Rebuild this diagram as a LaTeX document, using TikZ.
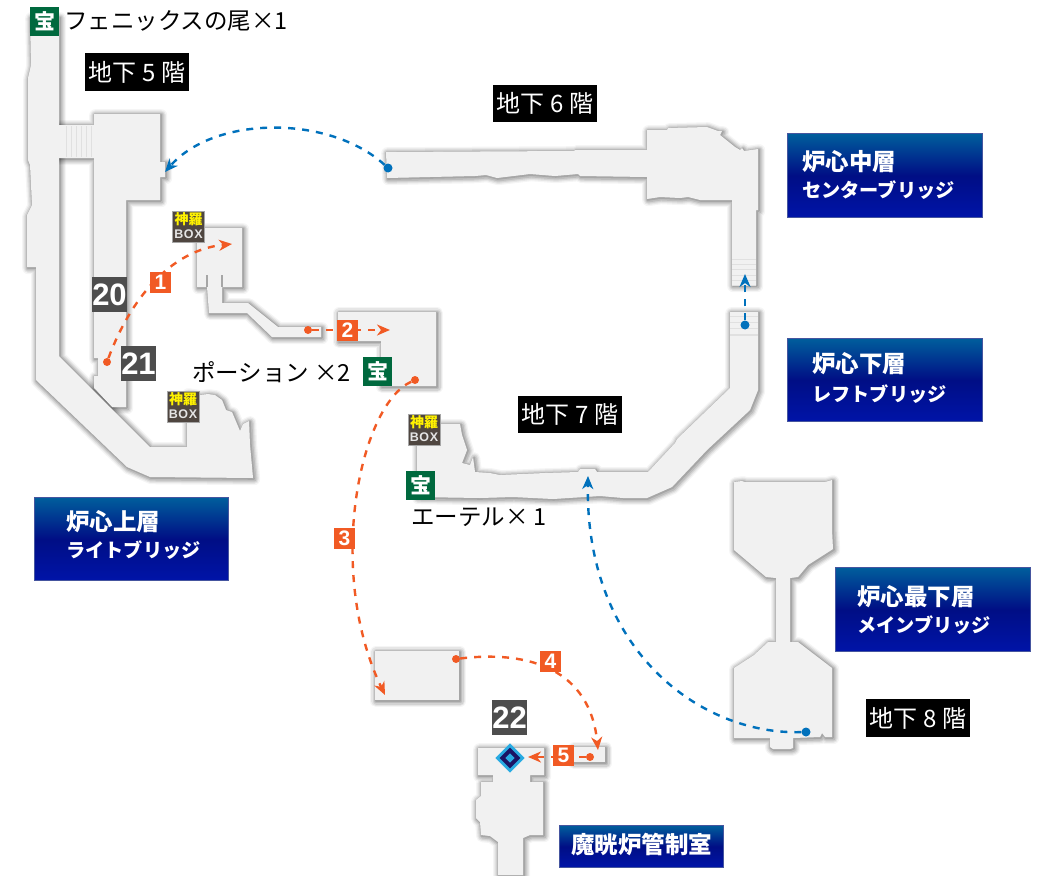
\documentclass[tikz,border=0pt]{standalone}
\usepackage{fontspec}
\setmainfont{Noto Sans CJK JP}
\newfontfamily\numfont{Liberation Sans}
\usetikzlibrary{arrows.meta}
\definecolor{roomgray}{HTML}{F1F1F1}
\definecolor{orangeroute}{HTML}{F15A24}
\definecolor{blueroute}{HTML}{0071BC}
\definecolor{stairline}{HTML}{E0E0E0}
\definecolor{treasure}{HTML}{00693E}
\definecolor{boxbrown}{HTML}{4F4640}
\definecolor{numgray}{HTML}{4D4D4D}
\definecolor{gradtop}{HTML}{005E9C}
\definecolor{gradmid}{HTML}{000E85}
\definecolor{gradbot}{HTML}{0014A8}
\definecolor{boxedge}{HTML}{45559F}
\definecolor{goalcyan}{HTML}{29ABE2}
\definecolor{goaldark}{HTML}{1B1464}
\tikzset{
  floorlabel/.style={fill=black,text=white,font=\fontsize{24}{24}\selectfont,anchor=center,inner sep=0pt},
  plainlabel/.style={text=black,font=\fontsize{23.5}{24}\selectfont,anchor=west,inner sep=0pt},
  kanjititle/.style={text=white,font=\bfseries\fontsize{23.5}{24}\selectfont,anchor=west,inner sep=0pt},
  kanatitle/.style={text=white,font=\bfseries\fontsize{19.2}{24}\selectfont,anchor=west,inner sep=0pt},
  numbox/.style={fill=numgray,text=white,font=\numfont\bfseries\fontsize{31}{31}\selectfont,minimum size=35pt,inner sep=0pt},
  ordbox/.style={fill=orangeroute,text=white,font=\numfont\bfseries\fontsize{21}{21}\selectfont,minimum size=21pt,inner sep=0pt},
  treasurebox/.style={fill=treasure,text=white,font=\bfseries\fontsize{21}{21}\selectfont,minimum size=29pt,inner sep=0pt},
  shinrabox/.style={fill=boxbrown,draw=gray!70,line width=.6pt,minimum width=32pt,minimum height=31pt,inner sep=0pt,align=center},
  orangepath/.style={draw=orangeroute,line width=2.4pt,dash pattern=on 7pt off 7pt,-{Stealth[length=13pt,width=11pt,inset=4pt]}},
  bluepath/.style={draw=blueroute,line width=2.4pt,dash pattern=on 7pt off 7pt,-{Stealth[length=13pt,width=11pt,inset=4pt]}},
  orangedot/.style={circle,fill=orangeroute,minimum size=8pt,inner sep=0pt},
  bluedot/.style={circle,fill=blueroute,minimum size=9pt,inner sep=0pt},
  stairs/.style={draw=stairline,line width=.7pt},
}
\newcommand{\shrinkshadow}[1]{%
  \path[draw=black,draw opacity=.04,line width=12pt,line join=round,xshift=1.2pt,yshift=-1.2pt] #1;
  \path[draw=black,draw opacity=.06,line width=9.5pt,line join=round,xshift=1.2pt,yshift=-1.2pt] #1;
  \path[draw=black,draw opacity=.08,line width=7pt,line join=round,xshift=1.2pt,yshift=-1.2pt] #1;
  \path[draw=black,draw opacity=.10,line width=4.5pt,line join=round,xshift=1.2pt,yshift=-1.2pt] #1;
  \path[draw=black,draw opacity=.12,line width=2pt,line join=round,xshift=.8pt,yshift=-.8pt] #1;
}
\newcommand{\rA}{(59,125) -- (94,125) -- (94,114) -- (160,114) -- (160,162) -- (165,162) -- (165,177) -- (160,177) -- (160,200) -- (126,200) -- (126,407) -- (112,407) -- (94,388) -- (94,376) -- (98,376) -- (98,358) -- (94,358) -- (94,158) -- (59,158) -- cycle}
\newcommand{\rB}{(30,17) -- (59,17) -- (59,356) -- (150,447) -- (187,447) -- (187,393) -- (200,395) -- (208,394) -- (215,395) -- (222,400) -- (226,410) -- (232,412) -- (240,431) -- (243,424) -- (249,421) -- (250,445) -- (253,478) -- (150,477) -- (127,467) -- (36,380) -- (36,267) -- (27,267) -- (27,215) -- (32,205) -- (30,165) -- (28,160) -- (28,78) -- (31,65) -- (30,17) -- cycle}
\newcommand{\rC}{(197,228) -- (242,228) -- (242,287) -- (222,287) -- (222,303) -- (248,303) -- (278,327) -- (321,327) -- (321,337) -- (272,337) -- (247,313) -- (209,313) -- (207,287) -- (197,287) -- cycle}
\newcommand{\rD}{(338,312) -- (436,312) -- (436,386) -- (381,386) -- (381,341) -- (338,341) -- cycle}
\newcommand{\rE}{(386,152) -- (574,151) -- (575,150) -- (647,150) -- (647,130) -- (667,130) -- (668,128) -- (707,127) -- (718,131) -- (722,131) -- (720,135) -- (735,147) -- (740,150) -- (742,148) -- (744,151) -- (758,149) -- (758,210) -- (756,210) -- (756,285) -- (732,285) -- (732,200) -- (700,200) -- (688,197) -- (680,198) -- (660,197) -- (647,199) -- (647,177) -- (580,176) -- (578,174) -- (555,176) -- (530,174) -- (497,178) -- (486,175) -- (475,176) -- (430,177) -- (387,178) -- cycle}
\newcommand{\rF}{(730,312) -- (758,312) -- (758,390) -- (750,410) -- (707,450) -- (672,487) -- (647,498) -- (623,498) -- (600,496) -- (553,499) -- (513,497) -- (480,498) -- (417,497) -- (417,424) -- (460,424) -- (462,435) -- (467,450) -- (462,463) -- (470,465) -- (473,457) -- (475,472) -- (490,473) -- (500,475) -- (545,473) -- (578,472) -- (580,469) -- (595,469) -- (597,472) -- (648,472) -- (675,443) -- (677,439) -- (730,388) -- cycle}
\newcommand{\rG}{(375,651) -- (459,651) -- (459,700) -- (375,700) -- cycle}
\newcommand{\rH}{(478,748) -- (544,748) -- (544,775) -- (530,775) -- (530,782) -- (543,782) -- (543,835) -- (530,835) -- (523,838) -- (523,875) -- (498,875) -- (498,842) -- (490,836) -- (481,835) -- (480,822) -- (476,818) -- (476,800) -- (481,796) -- (481,782) -- (493,782) -- (493,775) -- (478,775) -- cycle}
\newcommand{\rI}{(573,747) -- (605,747) -- (605,762) -- (573,762) -- cycle}
\newcommand{\rJ}{(734,482) -- (742,481) -- (745,482) -- (825,482) -- (832,480) -- (832,530) -- (833,549) -- (808,565) -- (798,577) -- (790,578) -- (790,642) -- (798,642) -- (832,668) -- (832,737) -- (825,737) -- (822,733) -- (820,737) -- (793,738) -- (793,748) -- (790,749) -- (773,749) -- (770,747) -- (770,738) -- (734,738) -- (734,668) -- (754,655) -- (768,642) -- (776,642) -- (776,578) -- (766,577) -- (734,550) -- cycle}
\newcommand{\shinra}[2]{\node[shinrabox] (#1) at (#2) {};
  \node[text=yellow,font=\bfseries\fontsize{14}{14}\selectfont,inner sep=0pt] (#1t) at ([yshift=7.5pt]#1.center) {神羅};
  \node[text=white!90!black,font=\numfont\bfseries\fontsize{12.5}{12.5}\selectfont,inner sep=0pt] (#1b) at ([yshift=-7.5pt]#1.center) {B\kern.6pt O\kern.6pt X};}
\begin{document}
\begin{tikzpicture}[x=1pt,y=-1pt]
\useasboundingbox (0,0) rectangle (1043,875);
\fill[white] (0,0) rectangle (1043,875);
% shadows, then floors
\shrinkshadow{\rA}\shrinkshadow{\rB}\shrinkshadow{\rC}\shrinkshadow{\rD}\shrinkshadow{\rE}
\shrinkshadow{\rF}\shrinkshadow{\rG}\shrinkshadow{\rH}\shrinkshadow{\rI}\shrinkshadow{\rJ}
\fill[roomgray] \rA; \fill[roomgray] \rB; \fill[roomgray] \rC; \fill[roomgray] \rD; \fill[roomgray] \rE;
\fill[roomgray] \rF; \fill[roomgray] \rG; \fill[roomgray] \rH; \fill[roomgray] \rI; \fill[roomgray] \rJ;
% details
\draw[gray,line width=.9pt] (94,389) -- (111,407);
\draw[gray!70,line width=1.2pt] (207,275) -- (207,287) (222,275) -- (222,287);
\foreach \px in {66,71,76,81,86,91} \draw[stairs] (\px,126) -- (\px,157);
\foreach \py in {259,264,269,275,280,285} \draw[stairs] (732,\py) -- (756,\py);
\foreach \py in {316,322,328,334} \draw[stairs] (730,\py) -- (758,\py);
\draw[stairs,line width=1.2pt] (730,335) -- (758,335);
% floor labels
\node[floorlabel,minimum width=104pt,minimum height=38pt] (b5) at (137,72) {地下 5 階};
\node[floorlabel,minimum width=104pt,minimum height=37pt] (b6) at (545,103) {地下 6 階};
\node[floorlabel,minimum width=104pt,minimum height=37pt] (b7) at (570,414) {地下 7 階};
\node[floorlabel,minimum width=104pt,minimum height=38pt] (b8) at (918,718) {地下 8 階};
% blue title boxes
\foreach \xa/\ya/\xb/\yb in {787.5/133.5/982.5/217.5,787.5/338.5/982.5/421.5,34.5/497.5/228.5/580.5,835.5/567.5/1030.5/651.5,559.5/825.5/723.5/867.5}{
  \path[draw=boxedge,line width=1pt,top color=gradtop,bottom color=gradbot,middle color=gradmid] (\xa,\ya) rectangle (\xb,\yb);
}
\node[kanjititle] (t1) at (802,162) {炉心中層};
\node[kanatitle] (t2) at (802,190) {センターブリッジ};
\node[kanjititle] (t3) at (812,364) {炉心下層};
\node[kanatitle] (t4) at (812,394) {レフトブリッジ};
\node[kanjititle] (t5) at (66,522) {炉心上層};
\node[kanatitle] (t6) at (66,550) {ライトブリッジ};
\node[kanjititle] (t7) at (857,597) {炉心最下層};
\node[kanatitle] (t8) at (857,625) {メインブリッジ};
\node[kanjititle] (t9) at (571,844) {魔晄炉管制室};
% treasure labels
\node[treasurebox] (tr1) at (44.5,21.5) {宝};
\node[treasurebox] (tr2) at (377.5,371.5) {宝};
\node[treasurebox] (tr3) at (420.5,485.5) {宝};
\node[plainlabel] (l1) at (64,21) {フェニックスの尾×1};
\node[plainlabel] (l2) at (192,372) {ポーション ×2};
\node[plainlabel] (l3) at (411,517) {エーテル× 1};
% Shinra boxes
\shinra{s1}{188.5,226.5}
\shinra{s2}{183,407}
\shinra{s3}{424,429.5}
% number boxes
\node[numbox] (n20) at (109.5,294.5) {20};
\node[numbox] (n21) at (138.5,363.5) {21};
\node[numbox] (n22) at (509.5,717.5) {22};
% route ends
\node[orangedot] (o1) at (107,362) {};
\coordinate (o1e) at (232,244);
\node[orangedot] (o2) at (308,330) {};
\coordinate (o2e) at (390,330);
\node[orangedot] (o3) at (415,380) {};
\coordinate (o3e) at (385,695);
\node[orangedot] (o4) at (456,659) {};
\coordinate (o4e) at (598,750);
\node[orangedot] (o5) at (590,757) {};
\coordinate (o5e) at (528,757);
\node[bluedot] (u1) at (388,168) {};
\coordinate (u1e) at (165,172);
\node[bluedot] (u2) at (745,325) {};
\coordinate (u2e) at (745,274);
\node[bluedot] (u3) at (806,732) {};
\coordinate (u3e) at (588,476);
% routes
\draw[orangepath] (o1) .. controls (130,300) and (170,250) .. (o1e);
\draw[orangepath] (o2) -- (o2e);
\draw[orangepath] (o3) .. controls (360,405) and (325,570) .. (o3e);
\draw[orangepath] (o4) .. controls (530,650) and (590,670) .. (o4e);
\draw[orangepath] (o5) -- (o5e);
\draw[bluepath] (u1) .. controls (330,115) and (215,115) .. (u1e);
\draw[bluepath] (u2) -- (u2e);
\draw[bluepath] (u3) .. controls (700,735) and (585,650) .. (u3e);
% order badges
\node[ordbox] (q1) at (160.5,282) {1};
\node[ordbox] (q2) at (347.5,330.5) {2};
\node[ordbox] (q3) at (344.5,538.5) {3};
\node[ordbox] (q4) at (550.5,661.5) {4};
\node[ordbox] (q5) at (563.5,755.5) {5};
% goal marker
\fill[goalcyan] (510,743.3) -- (524.7,758) -- (510,772.7) -- (495.3,758) -- cycle;
\fill[goaldark] (510,747.7) -- (520.3,758) -- (510,768.3) -- (499.7,758) -- cycle;
\fill[goalcyan] (510,753.3) -- (514.7,758) -- (510,762.7) -- (505.3,758) -- cycle;
\end{tikzpicture}
\end{document}
